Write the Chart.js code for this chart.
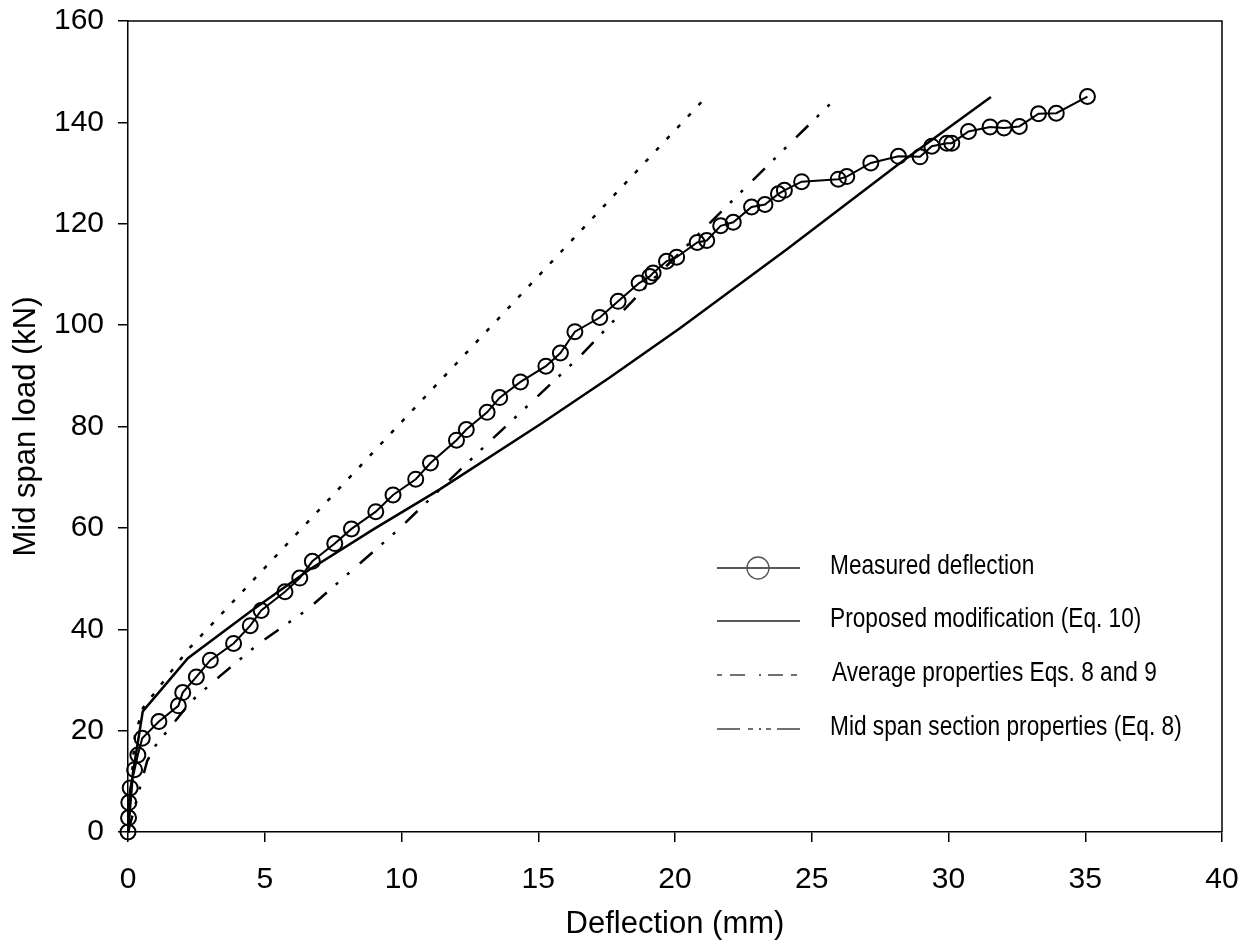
<!DOCTYPE html>
<html>
<head>
<meta charset="utf-8">
<script src="https://cdn.jsdelivr.net/npm/chart.js@4"></script>
<style>
  body { margin: 0; background: #fff; }
  #wrap { width: 1260px; height: 949px; }
</style>
</head>
<body>
<div id="wrap"><canvas id="grafico" width="1260" height="949"></canvas></div>
<script>
// measured load-deflection points
const measX = [0, 0.02, 0.03, 0.08, 0.24, 0.36, 0.52, 1.13, 1.84, 2.0, 2.5, 3.01, 3.86, 4.47, 4.87, 5.74, 6.28, 6.74, 7.56, 8.17,
  9.06, 9.69, 10.52, 11.06, 12.01, 12.37, 13.13, 13.59, 14.35, 15.28, 15.81, 16.34, 17.25, 17.92, 18.69, 19.08, 19.2, 19.69,
  20.06, 20.81, 21.16, 21.67, 22.13, 22.8, 23.29, 23.78, 24.0, 24.63, 25.97, 26.28, 27.16, 28.17, 28.96, 29.39, 29.94, 30.12,
  30.73, 31.52, 32.03, 32.59, 33.29, 33.94, 35.08];
const measY = [0, 2.8, 5.8, 8.7, 12.3, 15.2, 18.5, 21.8, 24.9, 27.5, 30.6, 33.9, 37.2, 40.7, 43.7, 47.4, 50.1, 53.4, 56.9, 59.8,
  63.2, 66.5, 69.6, 72.8, 77.3, 79.4, 82.8, 85.7, 88.8, 91.9, 94.5, 98.7, 101.5, 104.7, 108.3, 109.6, 110.3, 112.6,
  113.4, 116.3, 116.7, 119.6, 120.3, 123.3, 123.8, 125.9, 126.6, 128.3, 128.8, 129.3, 132.0, 133.3, 133.2, 135.3, 135.9, 135.9,
  138.2, 139.1, 138.9, 139.2, 141.7, 141.8, 145.1];

// proposed modification (Eq. 10)
const propX = [0, 0.18, 0.54, 2.19, 4.5, 6.64, 9.0, 11.4, 15.06, 17.6, 20.18, 24.08, 28.23, 31.55];
const propY = [0, 11.6, 23.8, 34.3, 43.6, 51.8, 59.8, 67.6, 80.4, 89.6, 99.4, 114.9, 132.0, 145.0];

// average properties Eqs. 8 and 9
const avgX = [0, 0.25, 0.55, 2.2, 21.14];
const avgY = [0, 19, 24.5, 36, 145];

// mid span section properties (Eq. 8)
const midX = [0, 0.7, 1.0, 2.31, 3.35, 4.81, 6.54, 9.81, 13.04, 16.52, 19.19, 23.84, 25.93];
const midY = [0, 14, 17, 25.8, 30.7, 37.3, 43.8, 59.3, 76.1, 93.8, 109, 133.9, 145];

const etiquetas = ["Measured deflection", "Proposed modification (Eq. 10)", "Average properties Eqs. 8 and 9", "Mid span section properties (Eq. 8)"];

const fuente = "'Liberation Sans', Arial, sans-serif";

function puntos(xs, ys) {
  return xs.map((x, i) => ({ x: x, y: ys[i] }));
}

// frame on top and right + legend drawn inside the plot
const marcoYLeyenda = {
  id: 'marcoYLeyenda',
  afterDraw(chart) {
    const { ctx, chartArea: a } = chart;
    ctx.save();
    ctx.strokeStyle = '#000';
    ctx.lineWidth = 1.5;
    ctx.beginPath();
    ctx.moveTo(a.left, a.top);
    ctx.lineTo(a.right, a.top);
    ctx.lineTo(a.right, a.bottom);
    ctx.stroke();

    const x0 = 717, x1 = 800, tx = 830;
    const filas = [568, 621, 675, 729];
    ctx.strokeStyle = '#222';
    ctx.lineWidth = 1.3;
    // measured: line with circle
    ctx.beginPath(); ctx.moveTo(x0, filas[0]); ctx.lineTo(x1, filas[0]); ctx.stroke();
    ctx.strokeStyle = '#555';
    ctx.beginPath(); ctx.arc(758, filas[0], 11, 0, Math.PI * 2); ctx.stroke();
    ctx.strokeStyle = '#222';
    // proposed: solid
    ctx.beginPath(); ctx.moveTo(x0, filas[1]); ctx.lineTo(x1, filas[1]); ctx.stroke();
    // average and mid span: broken segments as in the legend of the figure
    const tramos3 = [[717, 722], [730, 745], [759, 761], [768, 783], [791, 797]];
    const tramos4 = [[717, 740], [748, 753], [759, 761], [766, 771], [777, 800]];
    [[tramos3, filas[2]], [tramos4, filas[3]]].forEach(([tr, y]) => {
      tr.forEach(([a1, a2]) => {
        ctx.beginPath(); ctx.moveTo(a1, y); ctx.lineTo(a2, y); ctx.stroke();
      });
    });

    ctx.fillStyle = '#000';
    ctx.textBaseline = 'middle';
    ctx.font = '28px ' + fuente;
    etiquetas.forEach((t, i) => {
      ctx.save();
      ctx.translate(i === 2 ? tx + 2 : tx, filas[i] - 2);
      ctx.scale(0.81, 1);
      ctx.fillText(t, 0, 0);
      ctx.restore();
    });
    ctx.restore();
  }
};

const ctx = document.getElementById('grafico').getContext('2d');

new Chart(ctx, {
  type: 'line',
  data: {
    datasets: [
      {
        label: etiquetas[0],
        data: puntos(measX, measY),
        borderColor: '#000',
        borderWidth: 2,
        pointStyle: 'circle',
        pointRadius: 7.5,
        pointBorderWidth: 2,
        pointBorderColor: '#000',
        pointBackgroundColor: 'rgba(0,0,0,0)',
        tension: 0,
        clip: false,
        order: 0
      },
      {
        label: etiquetas[1],
        data: puntos(propX, propY),
        borderColor: '#000',
        borderWidth: 2.5,
        pointRadius: 0,
        tension: 0,
        order: 1
      },
      {
        label: etiquetas[2],
        data: puntos(avgX, avgY),
        borderColor: '#000',
        borderWidth: 2.5,
        borderDash: [4, 11.5],
        pointRadius: 0,
        tension: 0,
        order: 2
      },
      {
        label: etiquetas[3],
        data: puntos(midX, midY),
        borderColor: '#000',
        borderWidth: 2.5,
        borderDash: [17, 12, 3, 12, 3, 14],
        pointRadius: 0,
        tension: 0,
        order: 3
      }
    ]
  },
  options: {
    responsive: false,
    animation: false,
    events: [],
    layout: { padding: { top: 21, right: 38, left: 0, bottom: 0 } },
    plugins: {
      legend: { display: false },
      tooltip: { enabled: false }
    },
    scales: {
      x: {
        type: 'linear',
        min: 0,
        max: 40,
        ticks: { stepSize: 5, color: '#000', font: { family: fuente, size: 30 }, padding: 20, maxRotation: 0 },
        grid: { drawOnChartArea: false, drawTicks: true, tickLength: 10, color: '#000', lineWidth: 1.5 },
        border: { color: '#000', width: 1.5 },
        title: { display: true, text: 'Deflection (mm)', color: '#000', font: { family: fuente, size: 31 }, padding: { top: 0, bottom: 6 } },
        afterFit: s => { s.height = 117; s.paddingLeft = 0; s.paddingRight = 0; }
      },
      y: {
        type: 'linear',
        min: 0,
        max: 160,
        ticks: { stepSize: 20, color: '#000', font: { family: fuente, size: 30 }, padding: 14 },
        grid: { drawOnChartArea: false, drawTicks: true, tickLength: 10, color: '#000', lineWidth: 1.5 },
        border: { color: '#000', width: 1.5 },
        title: { display: true, text: 'Mid span load (kN)', color: '#000', font: { family: fuente, size: 31 }, padding: { top: 8, bottom: 0 } },
        afterFit: s => { s.width = 128; s.paddingTop = 0; s.paddingBottom = 0; }
      }
    }
  },
  plugins: [marcoYLeyenda]
});
</script>
</body>
</html>
